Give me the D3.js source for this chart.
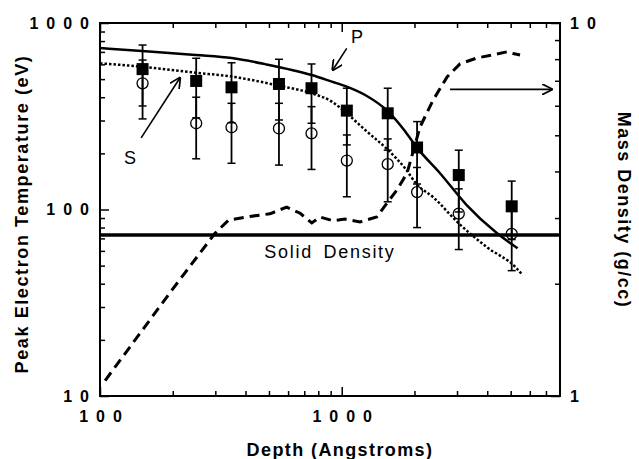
<!DOCTYPE html>
<html>
<head>
<meta charset="utf-8">
<script src="https://cdn.jsdelivr.net/npm/d3@7"></script>
<style>
  body { margin: 0; background: #fff; }
  svg { font-family: "Liberation Sans", Arial, sans-serif; }
</style>
</head>
<body>
<div id="chart-area"></div>
<script>
// measured points (depth in Angstroms)
const depths = [150, 250, 350, 550, 750, 1050, 1550, 2050, 3050, 5050];
// filled squares = peak temperature
const peakTemp  = [566, 489, 452, 471, 447, 339, 328, 215, 153, 104];
const peakErrHi = [762, 647, 612, 639, 603, 447, 447, 296, 208, 142];
const peakErrLo = [359, 310, 292, 302, 290, 222, 208, 137, 97, 69];
// open circles
const surfTemp  = [475, 290, 276, 272, 256, 183, 175, 124, 95, 74];
const surfErrHi = [633, 400, 371, 371, 356, 251, 239, 168, 129, 106];
const surfErrLo = [306, 187, 177, 173, 164, 117, 110, 80, 61, 47];

// model curve P (solid)
const pCurveDepth = [100, 149, 249, 351, 482, 751, 910, 1049, 1250, 1557, 1832, 2040, 2546, 3281, 4369, 5340];
const pCurveTemp  = [734, 708, 674, 649, 602, 526, 485, 456, 411, 335, 262, 216, 157, 106, 75, 62];
// model curve S (dotted)
const sCurveDepth = [100, 149, 249, 351, 459, 550, 751, 910, 1049, 1250, 1557, 1832, 2048, 2378, 3055, 3973, 5284, 5560];
const sCurveTemp  = [608, 583, 541, 516, 485, 461, 420, 379, 328, 267, 208, 166, 136, 117, 84, 63, 48.5, 45];
// mass density (dashed, right axis)
const densDepth = [105, 198, 299, 340, 417, 505, 592, 673, 752, 813, 920, 1032, 1191, 1396, 1539, 1693, 1864, 2108, 2387, 2729, 3086, 3627, 4227, 4831, 5117, 5467];
const densValue = [1.10, 1.92, 2.73, 2.96, 3.03, 3.08, 3.21, 3.09, 2.91, 3.02, 2.95, 2.98, 2.93, 3.02, 3.29, 3.57, 3.96, 5.26, 6.21, 7.17, 7.77, 8.06, 8.21, 8.37, 8.28, 8.21];
const solidDensity = 2.7;

// ticks
const xMajor = [100, 1000];
const xMinor = [200, 300, 400, 500, 600, 700, 800, 900, 2000, 3000, 4000, 5000, 6000, 7000];
const yMajor = [10, 100, 1000];
const yMinor = [20, 30, 40, 50, 60, 70, 80, 90, 200, 300, 400, 500, 600, 700, 800, 900];
const y2Major = [1, 10];
const y2Minor = [2, 3, 4, 5, 6, 7, 8, 9];

const margin = { left: 100, right: 79, top: 23, bottom: 63 };
const width = 639 - margin.left - margin.right;
const height = 459 - margin.top - margin.bottom;

const svg = d3.select("#chart-area")
  .append("svg")
    .attr("width", 639)
    .attr("height", 459);

const g = svg.append("g")
  .attr("transform", "translate(" + margin.left + "," + margin.top + ")");

const x = d3.scaleLog().domain([100, 8000]).range([0, width]);
const y = d3.scaleLog().domain([10, 1000]).range([height, 0]);
const y2 = d3.scaleLog().domain([1, 10]).range([height, 0]);

const labelSpacing = 8;

// Axes (ticks point inward)
function minorAxis(axis, ticks) {
  return axis.tickValues(ticks).tickSizeInner(-5).tickSizeOuter(0).tickFormat("");
}
function cleanAxis(sel) {
  sel.select(".domain").remove();
  sel.selectAll("line").attr("stroke", "#000").attr("stroke-width", 1.5);
}

g.append("g").attr("transform", "translate(0," + height + ")")
  .call(minorAxis(d3.axisBottom(x), xMinor)).call(cleanAxis);
g.append("g")
  .call(minorAxis(d3.axisTop(x), xMinor)).call(cleanAxis);
g.append("g")
  .call(minorAxis(d3.axisLeft(y), yMinor)).call(cleanAxis);
g.append("g").attr("transform", "translate(" + width + ",0)")
  .call(minorAxis(d3.axisRight(y2), y2Minor)).call(cleanAxis);
g.append("g")
  .call(d3.axisTop(x).tickValues(xMajor).tickSizeInner(-9).tickSizeOuter(0).tickFormat(""))
  .call(cleanAxis);

const xAxisG = g.append("g").attr("transform", "translate(0," + height + ")")
  .call(d3.axisBottom(x).tickValues(xMajor).tickSizeInner(-9).tickSizeOuter(0)
    .tickPadding(15).tickFormat(d3.format("d")))
  .call(cleanAxis);
xAxisG.selectAll("text").attr("dx", labelSpacing / 2);

const yAxisG = g.append("g")
  .call(d3.axisLeft(y).tickValues(yMajor).tickSizeInner(-9).tickSizeOuter(0)
    .tickPadding(3).tickFormat(d3.format("d")))
  .call(cleanAxis);

const y2AxisG = g.append("g").attr("transform", "translate(" + width + ",0)")
  .call(d3.axisRight(y2).tickValues(y2Major).tickSizeInner(-9).tickSizeOuter(0)
    .tickPadding(10).tickFormat(d3.format("d")))
  .call(cleanAxis);

[xAxisG, yAxisG, y2AxisG].forEach(function(a) {
  a.selectAll("text")
    .attr("fill", "#000")
    .attr("font-family", "'Liberation Sans', Arial, sans-serif")
    .attr("font-size", "16px")
    .attr("font-weight", "bold")
    .attr("letter-spacing", labelSpacing + "px");
});

// Plot frame
g.append("rect")
  .attr("width", width)
  .attr("height", height)
  .attr("fill", "none")
  .attr("stroke", "#000")
  .attr("stroke-width", 2);

// Curves
const tLine = d3.line().curve(d3.curveMonotoneX);

g.append("path")
  .attr("d", tLine(pCurveDepth.map((d, i) => [x(d), y(pCurveTemp[i])])))
  .attr("fill", "none")
  .attr("stroke", "#000")
  .attr("stroke-width", 2.5);

g.append("path")
  .attr("d", tLine(sCurveDepth.map((d, i) => [x(d), y(sCurveTemp[i])])))
  .attr("fill", "none")
  .attr("stroke", "#000")
  .attr("stroke-width", 2.5)
  .attr("stroke-dasharray", "2.5,2");

g.append("path")
  .attr("d", d3.line()(densDepth.map((d, i) => [x(d), y2(densValue[i])])))
  .attr("fill", "none")
  .attr("stroke", "#000")
  .attr("stroke-width", 3)
  .attr("stroke-dasharray", "10,6");

// Solid density line
g.append("line")
  .attr("x1", 0)
  .attr("x2", width)
  .attr("y1", y2(solidDensity))
  .attr("y2", y2(solidDensity))
  .attr("stroke", "#000")
  .attr("stroke-width", 3.5);

// Error bars
function errorBars(hi, lo) {
  depths.forEach(function(d, i) {
    const cx = x(d);
    g.append("line")
      .attr("x1", cx).attr("x2", cx)
      .attr("y1", y(hi[i])).attr("y2", y(lo[i]))
      .attr("stroke", "#000").attr("stroke-width", 1.8);
    [hi[i], lo[i]].forEach(function(v) {
      g.append("line")
        .attr("x1", cx - 4).attr("x2", cx + 4)
        .attr("y1", y(v)).attr("y2", y(v))
        .attr("stroke", "#000").attr("stroke-width", 1.5);
    });
  });
}
errorBars(peakErrHi, peakErrLo);
errorBars(surfErrHi, surfErrLo);

// Markers
g.selectAll("rect.peak")
  .data(depths)
  .enter()
  .append("rect")
  .attr("class", "peak")
  .attr("x", d => x(d) - 6)
  .attr("y", (d, i) => y(peakTemp[i]) - 6)
  .attr("width", 12)
  .attr("height", 12)
  .attr("fill", "#000");

g.selectAll("circle.surf")
  .data(depths)
  .enter()
  .append("circle")
  .attr("class", "surf")
  .attr("cx", d => x(d))
  .attr("cy", (d, i) => y(surfTemp[i]))
  .attr("r", 5.5)
  .attr("fill", "none")
  .attr("stroke", "#000")
  .attr("stroke-width", 1.3);

// Arrowhead
svg.append("defs").append("marker")
  .attr("id", "arrow")
  .attr("viewBox", "0 0 10 10")
  .attr("refX", 9)
  .attr("refY", 5)
  .attr("markerWidth", 11)
  .attr("markerHeight", 11)
  .attr("markerUnits", "userSpaceOnUse")
  .attr("orient", "auto")
  .append("path")
    .attr("d", "M0,0 L10,5 L0,10")
    .attr("fill", "none")
    .attr("stroke", "#000")
    .attr("stroke-width", 1.6);

function arrow(x1, y1, x2, y2v, sy) {
  g.append("line")
    .attr("x1", x(x1)).attr("y1", sy(y1))
    .attr("x2", x(x2)).attr("y2", sy(y2v))
    .attr("stroke", "#000")
    .attr("stroke-width", 1.6)
    .attr("marker-end", "url(#arrow)");
}
arrow(1049, 731, 918, 560, y);
arrow(148, 242, 214, 507, y);
arrow(2806, 6.64, 7396, 6.64, y2);

// Annotations
g.append("text")
  .attr("x", x(1157)).attr("y", y(781))
  .attr("text-anchor", "middle")
  .attr("font-size", "18px")
  .text("P");

g.append("text")
  .attr("x", x(133)).attr("y", y(175))
  .attr("text-anchor", "middle")
  .attr("font-size", "18px")
  .text("S");

g.append("text")
  .attr("x", x(894)).attr("y", y2(2.34))
  .attr("text-anchor", "middle")
  .attr("font-size", "18px")
  .attr("letter-spacing", "1.7px")
  .attr("word-spacing", "4px")
  .text("Solid Density");

// Axis titles
svg.append("text")
  .attr("transform", "translate(28,214) rotate(-90)")
  .attr("text-anchor", "middle")
  .attr("font-size", "18px")
  .attr("font-weight", "bold")
  .attr("letter-spacing", "1.6px")
  .text("Peak Electron Temperature (eV)");

svg.append("text")
  .attr("transform", "translate(618,210) rotate(90)")
  .attr("text-anchor", "middle")
  .attr("font-size", "18px")
  .attr("font-weight", "bold")
  .attr("letter-spacing", "1.5px")
  .text("Mass Density (g/cc)");

svg.append("text")
  .attr("x", 340)
  .attr("y", 456)
  .attr("text-anchor", "middle")
  .attr("font-size", "18px")
  .attr("font-weight", "bold")
  .attr("letter-spacing", "1.4px")
  .text("Depth (Angstroms)");
</script>
</body>
</html>
